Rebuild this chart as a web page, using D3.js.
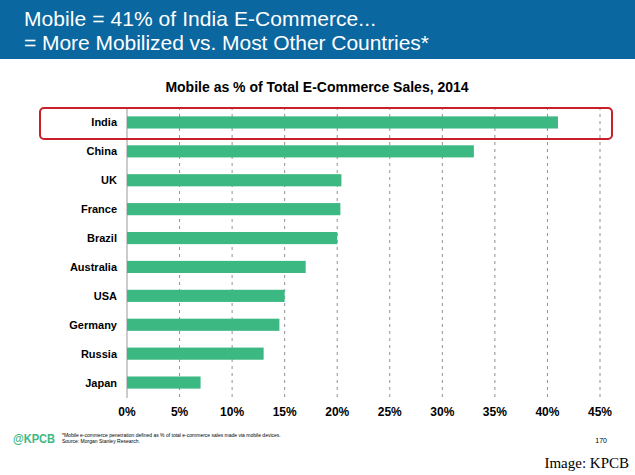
<!DOCTYPE html>
<html><head><meta charset="utf-8">
<script src="https://cdn.jsdelivr.net/npm/d3@7"></script>
<style>body{margin:0;background:#fff}svg{display:block}</style>
</head><body>
<script>
const countries = ["India","China","UK","France","Brazil","Australia","USA","Germany","Russia","Japan"];
const shares = [41,33,20.4,20.3,20,17,15,14.5,13,7];
const ticks = [0,5,10,15,20,25,30,35,40,45];

const W = 635, H = 475;
const svg = d3.select("body").append("svg").attr("width",W).attr("height",H);

/* header band */
svg.append("rect").attr("width",W).attr("height",59).attr("fill","#0b67a0");
svg.append("text").attr("x",24).attr("y",26).attr("fill","#fff").attr("textLength",352)
  .style("font","21px 'Liberation Sans',Arial,sans-serif").text("Mobile = 41% of India E-Commerce...");
svg.append("text").attr("x",24).attr("y",50).attr("fill","#fff").attr("textLength",405)
  .style("font","21px 'Liberation Sans',Arial,sans-serif").text("= More Mobilized vs. Most Other Countries*");

svg.append("text").attr("x",317).attr("y",92).attr("text-anchor","middle")
  .style("font","bold 14px 'Liberation Sans',Arial,sans-serif").text("Mobile as % of Total E-Commerce Sales, 2014");

const x = d3.scaleLinear().domain([0,45]).range([127,600]);
const y = d3.scaleBand().domain(countries).range([108,397]).paddingInner(0.58).paddingOuter(0.29);

/* grid */
svg.selectAll("line.grid").data(ticks.slice(1)).join("line")
  .attr("x1",d=>x(d)).attr("x2",d=>x(d)).attr("y1",107).attr("y2",398)
  .attr("stroke","#444").attr("stroke-width",0.6).attr("stroke-dasharray","3,4");
svg.append("line").attr("x1",x(0)).attr("x2",x(0)).attr("y1",107).attr("y2",398)
  .attr("stroke","#999").attr("stroke-width",1);

/* bars */
svg.selectAll("rect.bar").data(countries).join("rect")
  .attr("x",x(0)).attr("y",d=>y(d)).attr("height",y.bandwidth())
  .attr("width",(d,i)=>x(shares[i])-x(0)).attr("fill","#3cb883");

/* category labels */
svg.selectAll("text.cat").data(countries).join("text")
  .attr("x",117).attr("y",d=>y(d)+y.bandwidth()/2+4).attr("text-anchor","end")
  .style("font","bold 11px 'Liberation Sans',Arial,sans-serif").text(d=>d);

/* x axis labels */
svg.selectAll("text.tick").data(ticks).join("text")
  .attr("x",d=>x(d)).attr("y",416).attr("text-anchor","middle")
  .style("font","bold 12px 'Liberation Sans',Arial,sans-serif").text(d=>d+"%");

/* highlight */
svg.append("rect").attr("x",40).attr("y",108).attr("width",572).attr("height",31)
  .attr("rx",4).attr("fill","none").attr("stroke","#c8202a").attr("stroke-width",2);

/* footer */
svg.append("text").attr("x",13).attr("y",443).attr("fill","#3cb883").attr("textLength",42)
  .attr("lengthAdjust","spacingAndGlyphs")
  .style("font","bold 13px 'Liberation Sans',Arial,sans-serif").text("@KPCB");
svg.append("text").attr("x",62).attr("y",437)
  .style("font","5px 'Liberation Sans',Arial,sans-serif").text("*Mobile e-commerce penetration defined as % of total e-commerce sales made via mobile devices.");
svg.append("text").attr("x",62).attr("y",443)
  .style("font","5px 'Liberation Sans',Arial,sans-serif").text("Source: Morgan Stanley Research.");
svg.append("text").attr("x",607).attr("y",443).attr("text-anchor","end")
  .style("font","7px 'Liberation Sans',Arial,sans-serif").text("170");
svg.append("text").attr("x",629).attr("y",468).attr("text-anchor","end")
  .style("font","15px 'Liberation Serif','Times New Roman',serif").text("Image: KPCB");
</script>
</body></html>
